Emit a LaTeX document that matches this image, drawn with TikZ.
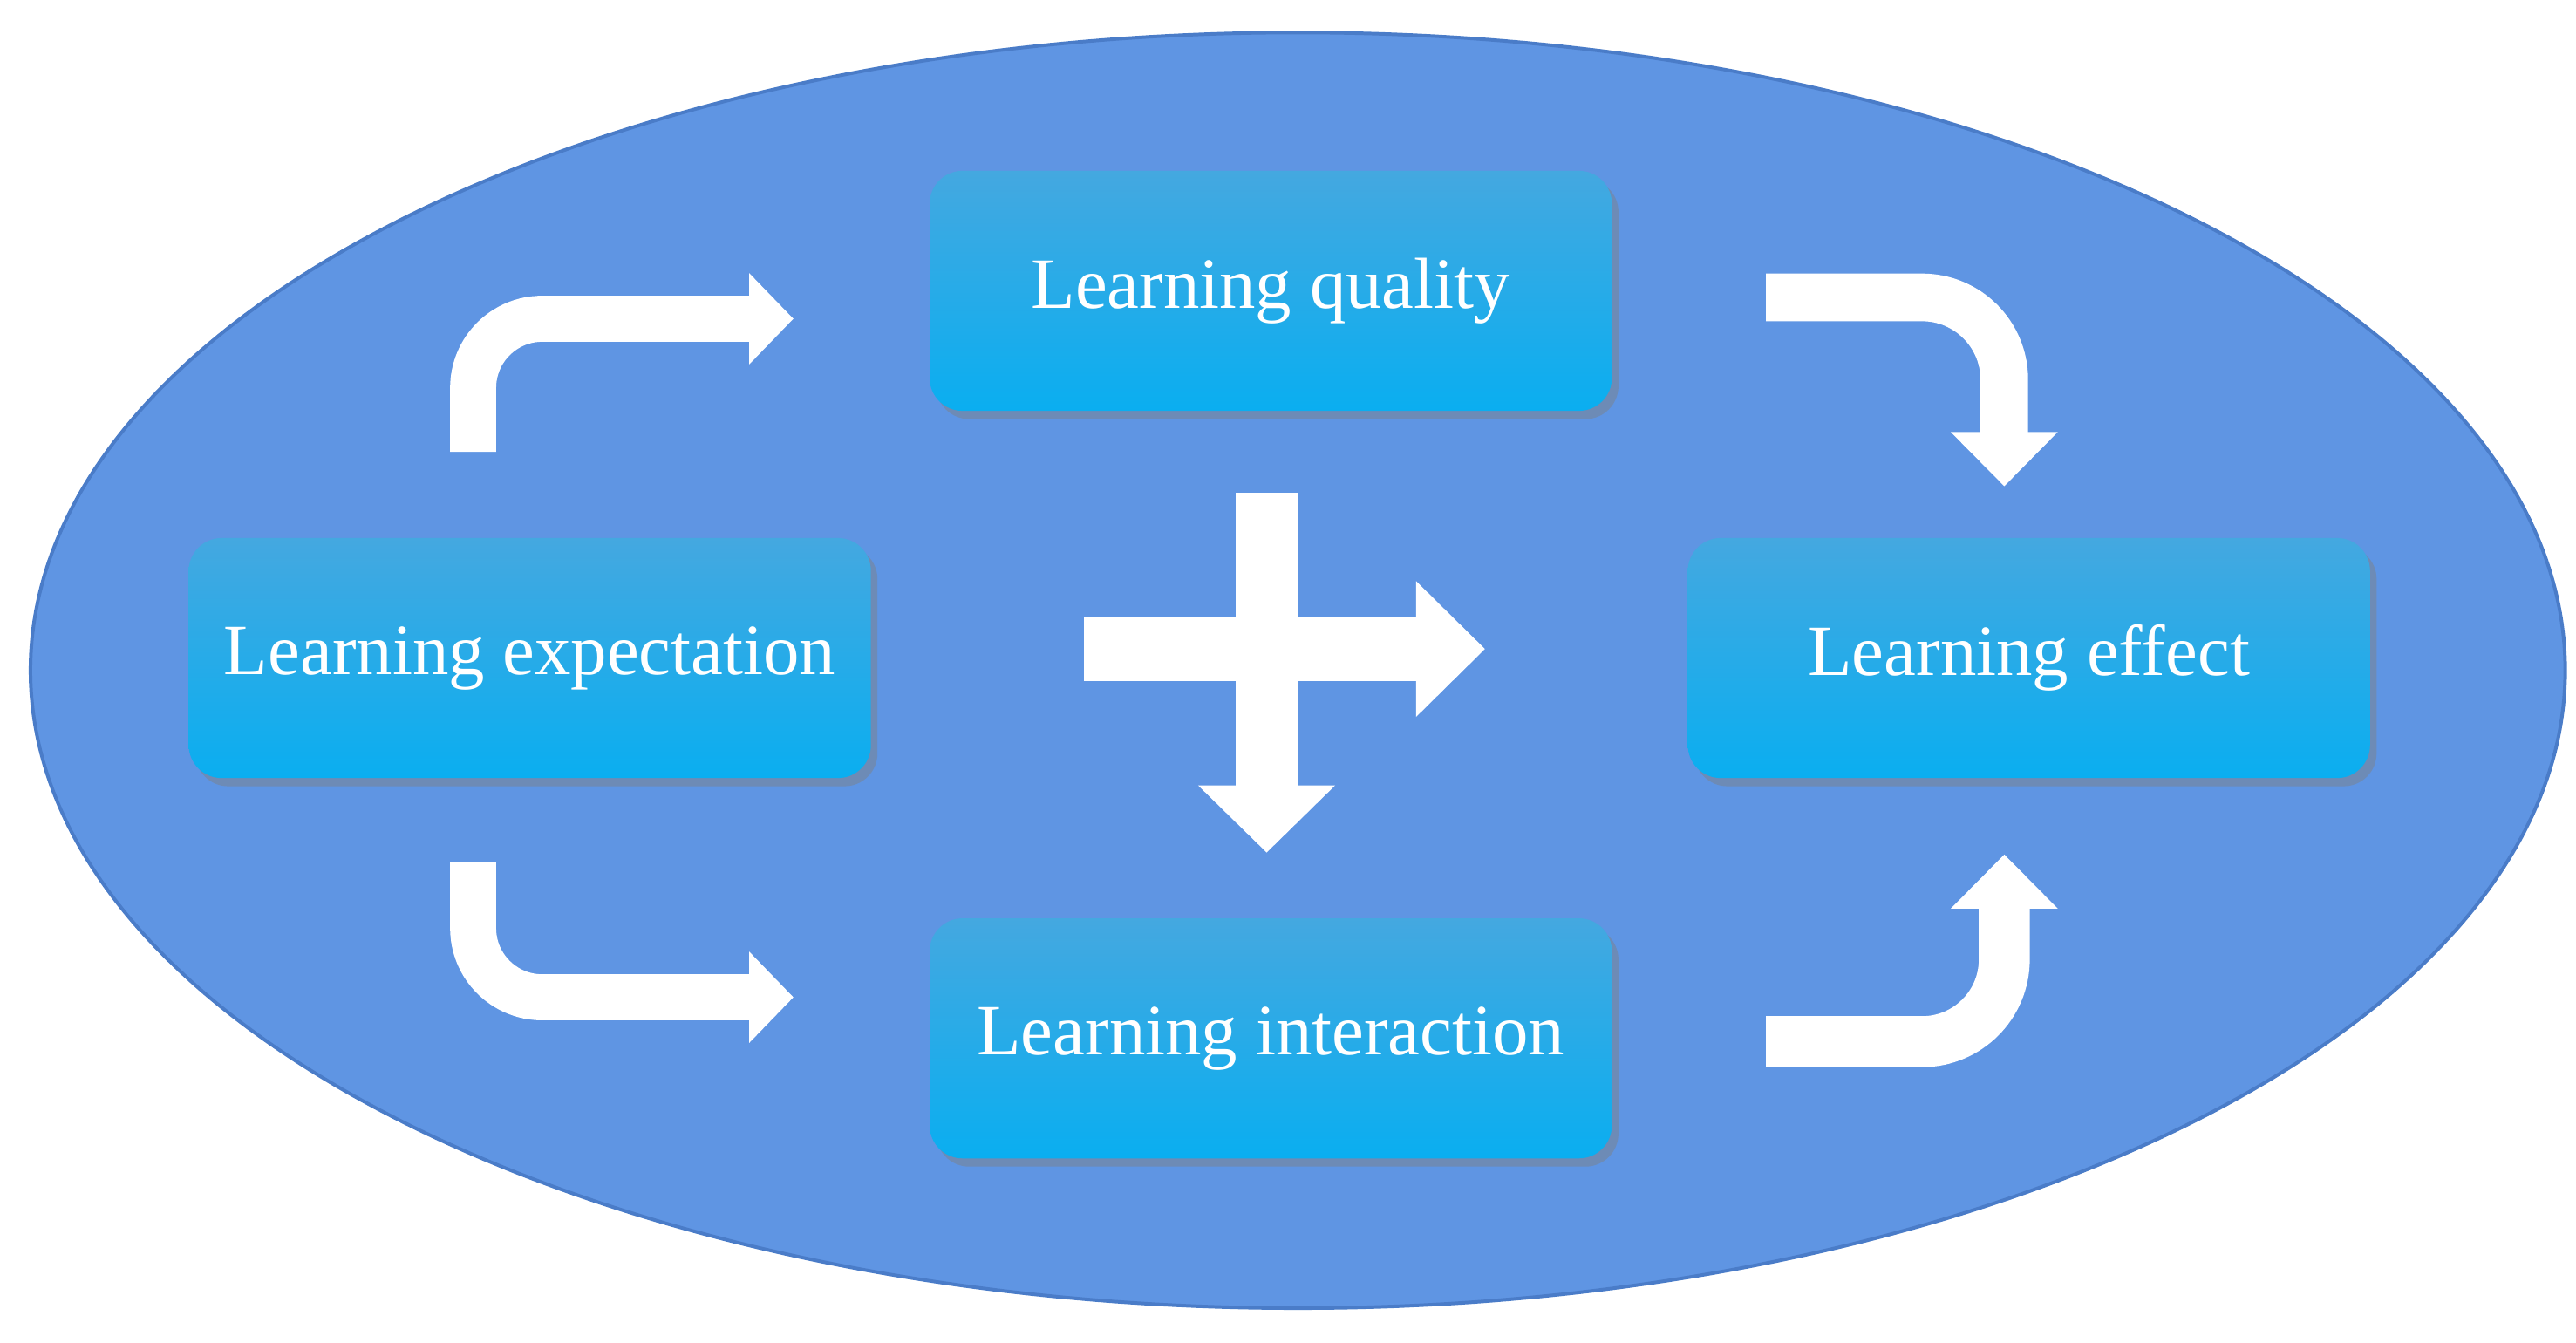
\documentclass[tikz,border=0pt]{standalone}
\usepackage{fontspec}
\setmainfont{Liberation Serif}
\usetikzlibrary{arrows.meta,shadows,shapes.geometric}
\definecolor{ell}{HTML}{5F95E3}
\definecolor{elld}{HTML}{4A7CC8}
\definecolor{btop}{HTML}{44A8E0}
\definecolor{bbot}{HTML}{0AAEF0}
\begin{document}
\begin{tikzpicture}[x=0.01cm,y=-0.01cm,
 box/.style={rounded corners=0.2cm,minimum width=4.15cm,minimum height=1.46cm,top color=btop,bottom color=bbot,draw=none,text=white,font=\fontsize{12.5}{15}\selectfont,drop shadow={shadow xshift=0.04cm,shadow yshift=-0.05cm,opacity=0.45}},
 barr/.style={draw=white,line width=0.28cm,rounded corners=0.42cm,-{Triangle[width=0.54cm,length=0.27cm]}}]
\useasboundingbox (0,0) rectangle (1568,817);
\node[ellipse,draw=elld,fill=ell,minimum width=15.42cm,minimum height=7.76cm,inner sep=0,line width=0.6pt] (E) at (790,408) {};
\node[box] (q) at (773.5,177) {Learning quality};
\node[box] (x) at (322.5,400.5) {Learning expectation};
\node[box] (f) at (1235,400.5) {Learning effect};
\node[box] (i) at (773.5,632) {Learning interaction};
\coordinate (a1) at (288,275); \coordinate (a2) at (288,194); \coordinate (a3) at (483,194);
\draw[barr] (a1) -- (a2) -- (a3);
\coordinate (b1) at (288,525); \coordinate (b2) at (288,607); \coordinate (b3) at (483,607);
\draw[barr] (b1) -- (b2) -- (b3);
\coordinate (c1) at (1075,181); \coordinate (c2) at (1220,181); \coordinate (c3) at (1220,296);
\draw[barr,line width=0.29cm,rounded corners=0.5cm,-{Triangle[width=0.63cm,length=0.33cm]}] (c1) -- (c2) -- (c3);
\coordinate (d1) at (1075,634); \coordinate (d2) at (1220,634); \coordinate (d3) at (1220,520);
\draw[barr,line width=0.31cm,rounded corners=0.5cm,-{Triangle[width=0.63cm,length=0.33cm]}] (d1) -- (d2) -- (d3);
\coordinate (h1) at (660,395); \coordinate (h2) at (904,395);
\draw[draw=white,line width=0.39cm,-{Triangle[width=0.8cm,length=0.42cm]}] (h1) -- (h2);
\coordinate (v1) at (771,300); \coordinate (v2) at (771,519);
\draw[draw=white,line width=0.38cm,-{Triangle[width=0.81cm,length=0.41cm]}] (v1) -- (v2);
\end{tikzpicture}
\end{document}
